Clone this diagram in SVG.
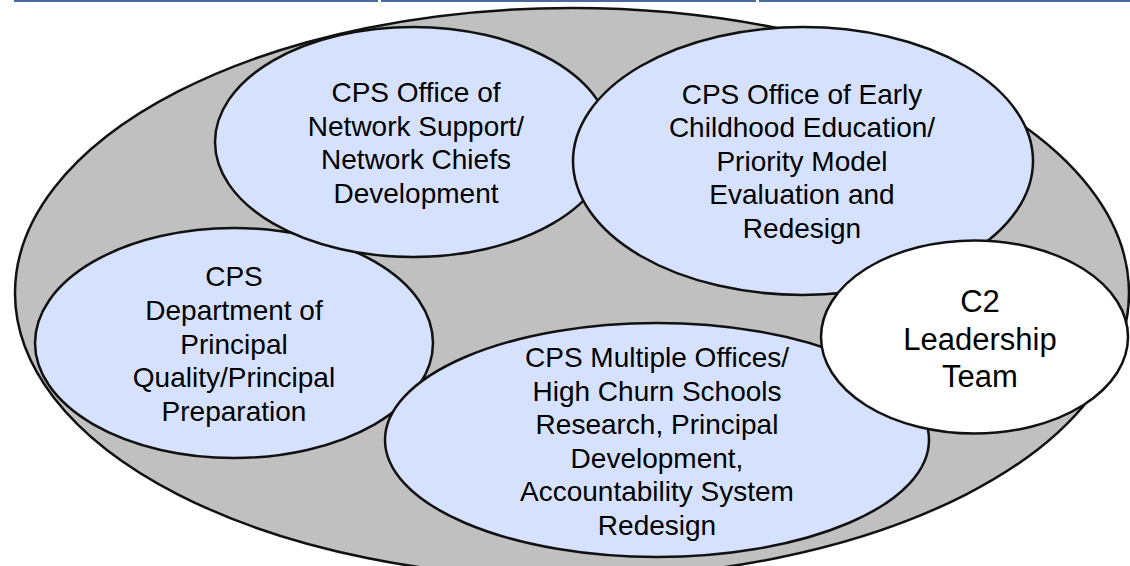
<svg xmlns="http://www.w3.org/2000/svg" width="1130" height="566" viewBox="0 0 1130 566">
  <style>
    .bar { fill: #4a6a9b; }
    .outer { fill: #c0c0c0; stroke: #111; stroke-width: 2.5; }
    .node { fill: #d6e1fd; stroke: #111; stroke-width: 2.5; }
    .lead { fill: #ffffff; stroke: #111; stroke-width: 2.5; }
    text { font-family: "Liberation Sans", Arial, sans-serif; font-size: 28px; fill: #000; text-anchor: middle; }
    .big { font-size: 31px; }
  </style>
  <rect width="1130" height="566" fill="#ffffff"/>
  <g id="topbar">
    <rect class="bar" x="14" y="0" width="364" height="2"/>
    <rect class="bar" x="381" y="0" width="375" height="2"/>
    <rect class="bar" x="759" y="0" width="371" height="2"/>
  </g>
  <g id="connectors"></g>
  <g id="outer">
    <ellipse class="outer" cx="572" cy="293" rx="557" ry="285"/>
  </g>
  <g id="principal-quality">
    <ellipse class="node" cx="234" cy="343" rx="199" ry="115"/>
    <text x="234" y="286">CPS</text>
    <text x="234" y="320">Department of</text>
    <text x="234" y="353.5">Principal</text>
    <text x="234" y="387">Quality/Principal</text>
    <text x="234" y="420.5">Preparation</text>
  </g>
  <g id="network-support">
    <ellipse class="node" cx="413" cy="142" rx="198" ry="115"/>
    <text x="416" y="102">CPS Office of</text>
    <text x="416" y="135.5">Network Support/</text>
    <text x="416" y="169">Network Chiefs</text>
    <text x="416" y="202.5">Development</text>
  </g>
  <g id="multiple-offices">
    <ellipse class="node" cx="657" cy="440" rx="272" ry="117"/>
    <text x="657" y="367">CPS Multiple Offices/</text>
    <text x="657" y="400.5">High Churn Schools</text>
    <text x="657" y="434">Research, Principal</text>
    <text x="657" y="467.5">Development,</text>
    <text x="657" y="501">Accountability System</text>
    <text x="657" y="534.5">Redesign</text>
  </g>
  <g id="early-childhood">
    <ellipse class="node" cx="803" cy="161" rx="230" ry="134"/>
    <text x="802" y="103.5">CPS Office of Early</text>
    <text x="802" y="137">Childhood Education/</text>
    <text x="802" y="170.5">Priority Model</text>
    <text x="802" y="204">Evaluation and</text>
    <text x="802" y="237.5">Redesign</text>
  </g>
  <g id="c2-leadership">
    <ellipse class="lead" cx="974.5" cy="337" rx="153.5" ry="96.5"/>
    <text class="big" x="980" y="311.5">C2</text>
    <text class="big" x="980" y="349.5">Leadership</text>
    <text class="big" x="980" y="387">Team</text>
  </g>
</svg>
